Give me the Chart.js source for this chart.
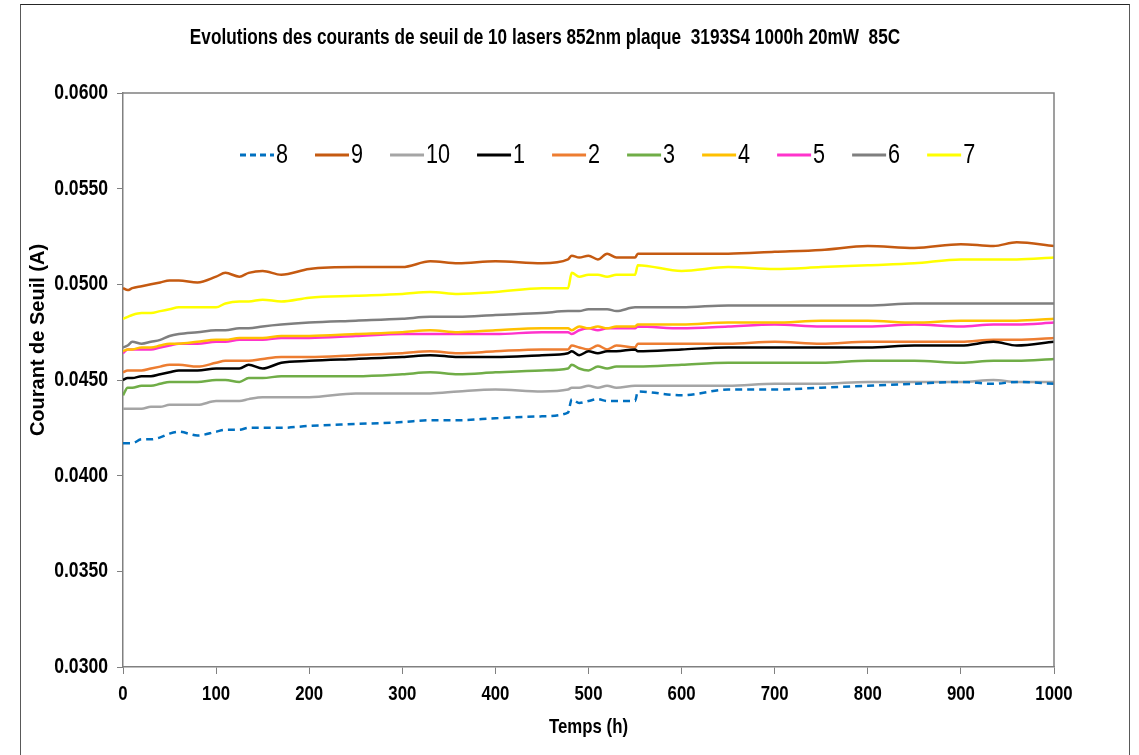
<!DOCTYPE html>
<html>
<head>
<meta charset="utf-8">
<script src="https://cdn.jsdelivr.net/npm/chart.js@4/dist/chart.umd.min.js"></script>
<style>
  html, body { margin: 0; padding: 0; background: #fff; overflow: hidden; }
  #frame { position: absolute; left: 20px; top: 4px; width: 1108px; height: 800px; border: 1.5px solid #595959; border-top-color: #262626; }
  #wrap { position: absolute; left: 0; top: 0; width: 1139px; height: 755px; }
</style>
</head>
<body>
<div id="frame"></div>
<div id="wrap"><canvas id="seuil" width="1139" height="755"></canvas></div>
<script>
var FONT = "'Liberation Sans', Arial, sans-serif";
var SERRE = 0.8; // compression horizontale (aspect Arial Narrow)

var titre = 'Evolutions des courants de seuil de 10 lasers 852nm plaque  3193S4 1000h 20mW  85C';
var titreY = 'Courant de Seuil (A)';
var titreX = 'Temps (h)';

// temps de mesure (h)
var temps = [0, 5, 10, 20, 30, 40, 50, 60, 80, 100, 110, 125, 135, 150, 170, 200, 250, 300, 330, 360,
  400, 450, 478, 482, 490, 500, 510, 520, 530, 550, 553, 600, 650, 700, 750, 800, 850, 900, 935, 960, 1000];

var noms = ['8', '9', '10', '1', '2', '3', '4', '5', '6', '7'];
var couleurs = ['#0070C0', '#C55A11', '#A5A5A5', '#000000', '#ED7D31', '#70AD47', '#FFC000', '#FF33CC', '#7F7F7F', '#FFFF00'];

var laser8 = [0.0417, 0.0417, 0.0417, 0.0419, 0.0419, 0.0420, 0.0422, 0.0423, 0.0421, 0.0423, 0.0424, 0.0424, 0.0425, 0.0425, 0.0425, 0.0426, 0.0427, 0.0428, 0.0429, 0.0429,
  0.0430, 0.0431, 0.0433, 0.0440, 0.0438, 0.0439, 0.0440, 0.0439, 0.0439, 0.0439, 0.0444, 0.0442, 0.0445, 0.0445, 0.0446, 0.0447, 0.0448, 0.0449, 0.0448, 0.0449, 0.0448];
var laser9 = [0.0498, 0.0497, 0.0498, 0.0499, 0.0500, 0.0501, 0.0502, 0.0502, 0.0501, 0.0504, 0.0506, 0.0504, 0.0506, 0.0507, 0.0505, 0.0508, 0.0509, 0.0509, 0.0512, 0.0511,
  0.0512, 0.0511, 0.0513, 0.0515, 0.0514, 0.0515, 0.0513, 0.0516, 0.0514, 0.0514, 0.0516, 0.0516, 0.0516, 0.0517, 0.0518, 0.0520, 0.0519, 0.0521, 0.0520, 0.0522, 0.0520];
var laser10 = [0.0435, 0.0435, 0.0435, 0.0435, 0.0436, 0.0436, 0.0437, 0.0437, 0.0437, 0.0439, 0.0439, 0.0439, 0.0440, 0.0441, 0.0441, 0.0441, 0.0443, 0.0443, 0.0443, 0.0444,
  0.0445, 0.0444, 0.0445, 0.0446, 0.0446, 0.0447, 0.0446, 0.0447, 0.0446, 0.0447, 0.0447, 0.0447, 0.0447, 0.0448, 0.0448, 0.0449, 0.0449, 0.0449, 0.0450, 0.0449, 0.0449];
var laser1 = [0.0450, 0.0451, 0.0451, 0.0452, 0.0452, 0.0453, 0.0454, 0.0455, 0.0455, 0.0456, 0.0456, 0.0456, 0.0458, 0.0456, 0.0459, 0.0460, 0.0461, 0.0462, 0.0463, 0.0462,
  0.0462, 0.0463, 0.0464, 0.0465, 0.0463, 0.0465, 0.0464, 0.0465, 0.0465, 0.0466, 0.0465, 0.0466, 0.0467, 0.0467, 0.0467, 0.0467, 0.0468, 0.0468, 0.0470, 0.0468, 0.0470];
var laser2 = [0.0454, 0.0455, 0.0455, 0.0455, 0.0456, 0.0457, 0.0458, 0.0458, 0.0457, 0.0459, 0.0460, 0.0460, 0.0460, 0.0461, 0.0462, 0.0462, 0.0463, 0.0464, 0.0465, 0.0464,
  0.0465, 0.0466, 0.0466, 0.0468, 0.0467, 0.0466, 0.0468, 0.0466, 0.0468, 0.0467, 0.0469, 0.0469, 0.0469, 0.0470, 0.0469, 0.0470, 0.0470, 0.0470, 0.0471, 0.0471, 0.0472];
var laser3 = [0.0442, 0.0446, 0.0446, 0.0447, 0.0447, 0.0448, 0.0449, 0.0449, 0.0449, 0.0450, 0.0450, 0.0449, 0.0451, 0.0451, 0.0452, 0.0452, 0.0452, 0.0453, 0.0454, 0.0453,
  0.0454, 0.0455, 0.0456, 0.0458, 0.0456, 0.0455, 0.0457, 0.0456, 0.0457, 0.0457, 0.0457, 0.0458, 0.0459, 0.0459, 0.0459, 0.0460, 0.0460, 0.0459, 0.0460, 0.0460, 0.0461];
var laser4 = [0.0465, 0.0466, 0.0466, 0.0467, 0.0467, 0.0468, 0.0469, 0.0469, 0.0470, 0.0471, 0.0471, 0.0472, 0.0472, 0.0472, 0.0473, 0.0473, 0.0474, 0.0475, 0.0476, 0.0475,
  0.0476, 0.0477, 0.0477, 0.0476, 0.0478, 0.0477, 0.0478, 0.0477, 0.0478, 0.0478, 0.0479, 0.0479, 0.0480, 0.0480, 0.0481, 0.0481, 0.0480, 0.0481, 0.0481, 0.0481, 0.0482];
var laser5 = [0.0464, 0.0466, 0.0466, 0.0466, 0.0466, 0.0467, 0.0468, 0.0469, 0.0469, 0.0470, 0.0470, 0.0471, 0.0471, 0.0471, 0.0472, 0.0472, 0.0473, 0.0474, 0.0474, 0.0474,
  0.0474, 0.0475, 0.0475, 0.0474, 0.0476, 0.0477, 0.0476, 0.0477, 0.0477, 0.0477, 0.0478, 0.0477, 0.0478, 0.0479, 0.0478, 0.0478, 0.0479, 0.0478, 0.0479, 0.0479, 0.0480];
var laser6 = [0.0467, 0.0468, 0.0470, 0.0469, 0.0470, 0.0471, 0.0473, 0.0474, 0.0475, 0.0476, 0.0476, 0.0477, 0.0477, 0.0478, 0.0479, 0.0480, 0.0481, 0.0482, 0.0483, 0.0483,
  0.0484, 0.0485, 0.0486, 0.0486, 0.0486, 0.0487, 0.0487, 0.0487, 0.0486, 0.0488, 0.0488, 0.0488, 0.0489, 0.0489, 0.0489, 0.0489, 0.0490, 0.0490, 0.0490, 0.0490, 0.0490];
var laser7 = [0.0482, 0.0483, 0.0484, 0.0485, 0.0485, 0.0486, 0.0487, 0.0488, 0.0488, 0.0488, 0.0490, 0.0491, 0.0491, 0.0492, 0.0491, 0.0493, 0.0494, 0.0495, 0.0496, 0.0495,
  0.0496, 0.0498, 0.0498, 0.0506, 0.0504, 0.0505, 0.0505, 0.0504, 0.0505, 0.0505, 0.0510, 0.0507, 0.0509, 0.0508, 0.0509, 0.0510, 0.0511, 0.0513, 0.0513, 0.0513, 0.0514];

var series = [laser8, laser9, laser10, laser1, laser2, laser3, laser4, laser5, laser6, laser7];

var datasets = series.map(function (vals, i) {
  return {
    label: noms[i],
    data: vals.map(function (v, k) { return { x: temps[k], y: v }; }),
    borderColor: couleurs[i],
    backgroundColor: couleurs[i],
    borderWidth: 2.5,
    borderDash: i === 0 ? [7, 5] : [],
    pointRadius: 0,
    cubicInterpolationMode: 'monotone',
    fill: false
  };
});

// texte resserre horizontalement
function texte(c, s, x, y, taille, gras, align) {
  c.save();
  c.translate(x, y);
  c.scale(SERRE, 1);
  c.font = (gras ? 'bold ' : '') + taille + 'px ' + FONT;
  c.textAlign = align;
  c.textBaseline = 'middle';
  c.fillStyle = '#000';
  c.fillText(s, 0, 0);
  var w = c.measureText(s).width * SERRE;
  c.restore();
  return w;
}

// titre, etiquettes des axes, cadre du graphe et legende dans la zone de tracage
var decor = {
  id: 'decor',
  afterDraw: function (chart) {
    var c = chart.ctx, a = chart.chartArea;
    var sx = chart.scales.x, sy = chart.scales.y;
    c.save();
    c.strokeStyle = '#808080';
    c.lineWidth = 1.5;
    c.beginPath();
    c.moveTo(a.left, a.top); c.lineTo(a.right, a.top); c.lineTo(a.right, a.bottom);
    c.stroke();

    texte(c, titre, 545, 38, 21.5, true, 'center');

    sy.ticks.forEach(function (t) {
      texte(c, t.value.toFixed(4), 108, sy.getPixelForValue(t.value), 22, true, 'right');
    });
    sx.ticks.forEach(function (t) {
      texte(c, String(t.value), sx.getPixelForValue(t.value), 694, 21, true, 'center');
    });
    texte(c, titreX, (a.left + a.right) / 2, 727, 21, true, 'center');

    c.save();
    c.translate(38, 340);
    c.rotate(-Math.PI / 2);
    c.font = 'bold 20px ' + FONT;
    c.textAlign = 'center';
    c.textBaseline = 'middle';
    c.fillStyle = '#000';
    c.fillText(titreY, 0, 0);
    c.restore();

    // legende
    var x = 240, y = 155;
    chart.data.datasets.forEach(function (ds) {
      c.strokeStyle = ds.borderColor;
      c.lineWidth = 3;
      c.setLineDash(ds.borderDash.length ? [6, 4] : []);
      c.beginPath(); c.moveTo(x, y); c.lineTo(x + 34, y); c.stroke();
      c.setLineDash([]);
      var w = texte(c, ds.label, x + 36, y + 1, 27, false, 'left');
      x += 36 + w + 27;
    });
    c.restore();
  }
};

var ctx = document.getElementById('seuil').getContext('2d');
var chart = new Chart(ctx, {
  type: 'line',
  data: { datasets: datasets },
  plugins: [decor],
  options: {
    responsive: false,
    animation: false,
    layout: { padding: { top: 93, right: 85, bottom: 0, left: 0 } },
    plugins: {
      legend: { display: false },
      title: { display: false },
      tooltip: { enabled: false }
    },
    scales: {
      x: {
        type: 'linear',
        min: 0, max: 1000,
        afterFit: function (s) { s.height = 88; },
        grid: { drawOnChartArea: false, drawTicks: true, tickLength: 7, color: '#808080' },
        border: { color: '#808080', width: 1.5 },
        ticks: { stepSize: 100, display: false }
      },
      y: {
        min: 0.03, max: 0.06,
        afterFit: function (s) { s.width = 123; },
        grid: { drawOnChartArea: false, drawTicks: true, tickLength: 6, color: '#808080' },
        border: { color: '#808080', width: 1.5 },
        ticks: { stepSize: 0.005, display: false }
      }
    }
  }
});
</script>
</body>
</html>
